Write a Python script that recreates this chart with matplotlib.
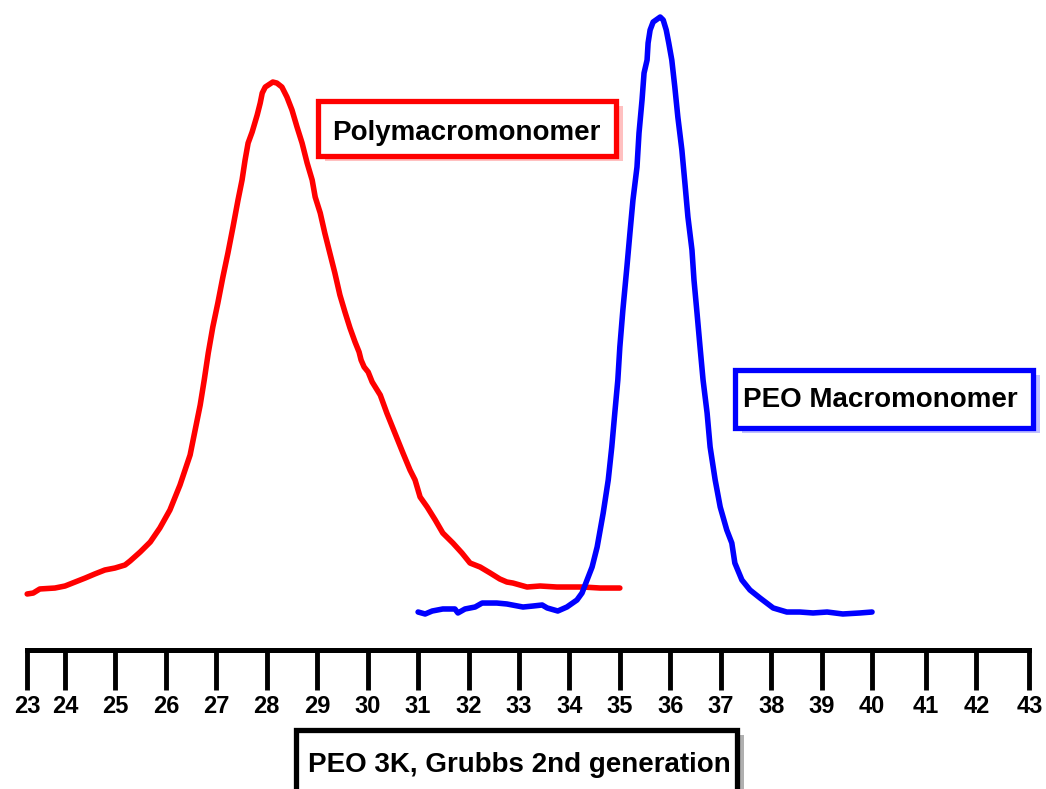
import matplotlib
matplotlib.use('Agg')
import matplotlib.pyplot as plt
from matplotlib.patches import Rectangle

plt.rcParams['font.family'] = ['Liberation Sans', 'DejaVu Sans']
plt.rcParams['font.weight'] = 'bold'

# GPC traces (elution time, min) and detector response (relative)
red_time = [23.25, 23.37, 23.50, 23.80, 24.00, 24.20, 24.40, 24.59, 24.79, 24.99,
            25.19, 25.29, 25.49, 25.69, 25.88, 26.08, 26.28, 26.48, 26.58, 26.68,
            26.76, 26.84, 26.93, 27.03, 27.13, 27.23, 27.33, 27.43, 27.51, 27.57,
            27.63, 27.71, 27.81, 27.87, 27.91, 27.97, 28.12, 28.20, 28.30, 28.40,
            28.50, 28.60, 28.70, 28.80, 28.90, 28.96, 29.06, 29.15, 29.25, 29.35,
            29.45, 29.55, 29.65, 29.75, 29.83, 29.87, 29.93, 30.01, 30.09, 30.25,
            30.38, 30.54, 30.70, 30.84, 30.94, 31.04, 31.18, 31.34, 31.49, 31.69,
            31.87, 32.03, 32.23, 32.43, 32.62, 32.76, 32.88, 33.16, 33.42, 33.75,
            34.27, 34.61, 35.00]
red_signal = [8.85, 9.00, 9.64, 9.79, 10.11, 10.74, 11.37, 12.01, 12.64, 12.95,
              13.43, 14.06, 15.48, 17.06, 19.27, 22.12, 26.07, 30.81, 34.76, 38.70,
              42.65, 46.92, 51.03, 54.82, 58.93, 62.72, 66.82, 71.09, 74.25, 77.41,
              80.09, 81.83, 84.52, 86.41, 87.99, 88.94, 89.73, 89.57, 88.94, 87.36,
              85.31, 82.62, 80.09, 76.94, 74.25, 71.56, 69.04, 65.88, 62.72, 59.56,
              56.08, 53.40, 50.87, 48.66, 47.08, 45.81, 44.71, 43.92, 42.34, 40.28,
              37.44, 34.28, 31.12, 28.44, 26.86, 24.17, 22.59, 20.54, 18.48, 16.90,
              15.32, 13.74, 13.11, 12.16, 11.22, 10.74, 10.58, 9.95, 10.11, 9.95,
              9.95, 9.79, 9.79]

blue_time = [31.00, 31.14, 31.28, 31.49, 31.73, 31.79, 31.93, 32.13, 32.27, 32.56,
             32.76, 33.08, 33.28, 33.46, 33.56, 33.77, 33.95, 34.15, 34.25, 34.35,
             34.45, 34.55, 34.67, 34.77, 34.84, 34.90, 34.96, 35.00, 35.06, 35.14,
             35.20, 35.26, 35.34, 35.38, 35.44, 35.48, 35.54, 35.56, 35.60, 35.66,
             35.80, 35.86, 35.92, 35.97, 36.03, 36.09, 36.15, 36.23, 36.29, 36.35,
             36.43, 36.47, 36.53, 36.59, 36.65, 36.73, 36.79, 36.89, 36.99, 37.12,
             37.22, 37.28, 37.42, 37.58, 37.78, 38.04, 38.31, 38.57, 38.83, 39.11,
             39.42, 39.76, 40.00]
blue_signal = [6.00, 5.69, 6.16, 6.48, 6.48, 5.85, 6.48, 6.79, 7.42, 7.42,
               7.27, 6.79, 6.95, 7.11, 6.64, 6.16, 6.79, 7.90, 9.00, 11.06,
               13.11, 16.27, 21.64, 26.86, 32.07, 37.44, 42.65, 47.87, 53.71, 60.51,
               65.88, 71.09, 76.30, 81.67, 86.89, 91.15, 93.21, 95.89, 97.95, 99.21,
               100.0, 99.53, 97.95, 95.89, 93.21, 88.94, 84.20, 78.99, 73.78, 68.40,
               63.19, 58.45, 53.24, 47.87, 42.65, 37.44, 32.07, 26.86, 22.59, 18.96,
               16.90, 13.74, 11.06, 9.48, 8.21, 6.64, 6.00, 6.00, 5.85, 6.00,
               5.69, 5.85, 6.00]

tick_labels = [str(v) for v in range(23, 44)]
# hand drawn axis: first and last ticks are not evenly spaced
tick_pos = [23.25] + list(range(24, 41)) + [41.06, 42.07, 43.12]

fig = plt.figure(figsize=(10.46, 7.89), dpi=100)
ax = fig.add_axes([0, 0, 1, 1])

ax.plot(red_time, red_signal, color='#ff0000', lw=4.0, solid_joinstyle='round',
        solid_capstyle='round')
ax.plot(blue_time, blue_signal, color='#0000ff', lw=4.0, solid_joinstyle='round',
        solid_capstyle='round')

ax.set_xlim(22.711, 43.449)
ax.set_ylim(-21.96, 102.69)

for s in ['top', 'right', 'left']:
    ax.spines[s].set_visible(False)
ax.spines['bottom'].set_position(('data', 0))
ax.spines['bottom'].set_bounds(tick_pos[0], tick_pos[-1])
ax.spines['bottom'].set_linewidth(3.6)
ax.set_yticks([])
ax.set_xticks(tick_pos)
ax.set_xticklabels(tick_labels)
ax.tick_params(axis='x', direction='out', length=28.5, width=3.5, pad=4,
               labelsize=17)


def box(x0, y0, x1, y1, edge, shadow, text, tx, ty):
    # pixel layout -> figure fraction, with a drop shadow behind the frame
    W, H = 1046, 789
    fig.patches.append(Rectangle(((x0 + 7) / W, 1 - (y1 + 5) / H), (x1 - x0) / W, (y1 - y0) / H,
                                 transform=fig.transFigure, facecolor=shadow, edgecolor='none',
                                 zorder=1))
    fig.patches.append(Rectangle((x0 / W, 1 - y1 / H), (x1 - x0) / W, (y1 - y0) / H,
                                 transform=fig.transFigure, facecolor='white', edgecolor=edge,
                                 lw=3.8, zorder=2))
    fig.text(tx / W, 1 - ty / H, text, ha='center', va='center', fontsize=20,
             fontweight='bold', color='black', zorder=3)


box(317.5, 100.5, 615.5, 155.5, '#ff0000', '#ffc0c0', 'Polymacromonomer', 466, 133)
box(734.5, 369.5, 1032.5, 427.5, '#0000ff', '#c0c0ff', 'PEO Macromonomer', 880, 400)
box(296, 730, 737, 810, 'black', '#b0b0b0', 'PEO 3K, Grubbs 2nd generation', 519, 765)

fig.savefig('out.png', dpi=100)
